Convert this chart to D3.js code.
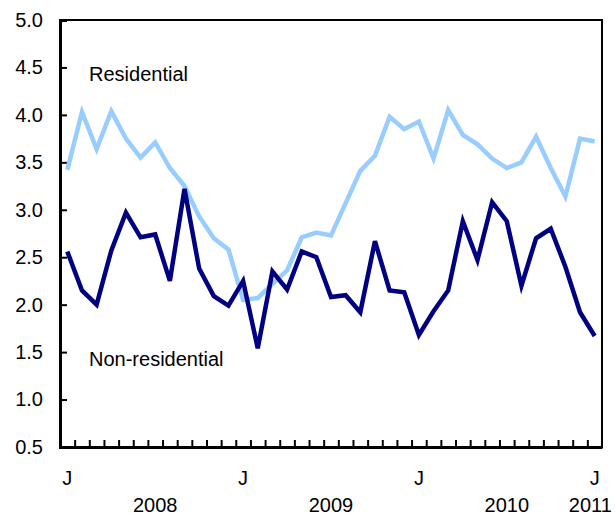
<!DOCTYPE html>
<html>
<head>
<meta charset="utf-8">
<script src="https://cdnjs.cloudflare.com/ajax/libs/d3/7.8.5/d3.min.js"></script>
<style>
  body { margin: 0; background: #fff; }
  text { font-family: "Liberation Sans", Arial, sans-serif; fill: #000; }
</style>
</head>
<body>
<div id="graphic"></div>
<script>
// monthly, Jan 2008 to Jan 2011
var months = ["J","F","M","A","M","J","J","A","S","O","N","D",
              "J","F","M","A","M","J","J","A","S","O","N","D",
              "J","F","M","A","M","J","J","A","S","O","N","D",
              "J"];

var residential = [3.42, 4.03, 3.64, 4.04, 3.75, 3.55, 3.71, 3.44, 3.25, 2.93, 2.70, 2.58,
                   2.05, 2.07, 2.22, 2.36, 2.71, 2.76, 2.73, 3.07, 3.41, 3.57, 3.98, 3.85,
                   3.93, 3.54, 4.05, 3.79, 3.69, 3.54, 3.44, 3.50, 3.77, 3.44, 3.14, 3.75,
                   3.72];

var nonResidential = [2.56, 2.15, 2.00, 2.57, 2.97, 2.71, 2.74, 2.25, 3.22, 2.38, 2.09, 1.99,
                      2.25, 1.54, 2.35, 2.16, 2.56, 2.50, 2.08, 2.10, 1.92, 2.67, 2.15, 2.13,
                      1.68, 1.93, 2.15, 2.88, 2.47, 3.08, 2.88, 2.20, 2.70, 2.80, 2.40, 1.92,
                      1.67];

var yTicks = [0.5, 1.0, 1.5, 2.0, 2.5, 3.0, 3.5, 4.0, 4.5, 5.0];
var years = [{label: "2008", at: 6.5}, {label: "2009", at: 18.5}, {label: "2010", at: 30.5}, {label: "2011", at: 36.2}];

var width = 616,
    height = 516;

var margin = {top: 20, right: 14, bottom: 69, left: 60};
var w = width - margin.left - margin.right,
    h = height - margin.top - margin.bottom;

var svg = d3.select("#graphic")
    .append("svg")
    .attr("width", width)
    .attr("height", height);

var g = svg.append("g")
    .attr("transform", "translate(" + margin.left + "," + margin.top + ")");

var x = d3.scaleLinear()
    .domain([0, months.length])
    .range([0, w]);

var y = d3.scaleLinear()
    .domain([0.5, 5.0])
    .range([h, 0]);

// frame
g.append("rect")
    .attr("width", w)
    .attr("height", h)
    .attr("fill", "none")
    .attr("stroke", "#000")
    .attr("stroke-width", 2);

// y axis, ticks inside
var yAxis = g.append("g")
    .call(d3.axisLeft(y)
      .tickValues(yTicks)
      .tickSize(-7)
      .tickPadding(17)
      .tickFormat(d3.format(".1f")));
yAxis.select(".domain").attr("stroke-width", 3);
yAxis.selectAll(".tick line").attr("stroke-width", 2);
yAxis.selectAll("text")
    .attr("font-size", 20)
    .attr("font-family", "Liberation Sans, Arial, sans-serif");

// x axis, month ticks on band edges
var xAxis = g.append("g")
    .attr("transform", "translate(0," + h + ")")
    .call(d3.axisBottom(x)
      .tickValues(d3.range(1, months.length))
      .tickSize(-7)
      .tickSizeOuter(0)
      .tickFormat(""));
xAxis.select(".domain").attr("stroke-width", 3);
xAxis.selectAll(".tick line").attr("stroke-width", 2);

// January labels
g.selectAll(".jan")
    .data(months.map(function(m, i) { return {m: m, i: i}; })
      .filter(function(d) { return d.i % 12 === 0; }))
    .enter().append("text")
    .attr("class", "jan")
    .attr("x", function(d) { return x(d.i + 0.5); })
    .attr("y", h + 38)
    .attr("text-anchor", "middle")
    .attr("font-size", 20)
    .text(function(d) { return d.m; });

g.selectAll(".year")
    .data(years)
    .enter().append("text")
    .attr("class", "year")
    .attr("x", function(d) { return x(d.at); })
    .attr("y", h + 65)
    .attr("text-anchor", "middle")
    .attr("font-size", 20)
    .text(function(d) { return d.label; });

var line = d3.line()
    .x(function(d, i) { return x(i + 0.5); })
    .y(function(d) { return y(d); });

g.append("path")
    .datum(residential)
    .attr("fill", "none")
    .attr("stroke", "#99ccff")
    .attr("stroke-width", 4.5)
    .attr("d", line);

g.append("path")
    .datum(nonResidential)
    .attr("fill", "none")
    .attr("stroke", "#000080")
    .attr("stroke-width", 4.5)
    .attr("d", line);

g.append("text")
    .attr("x", 29)
    .attr("y", 61)
    .attr("font-size", 20)
    .text("Residential");

g.append("text")
    .attr("x", 29)
    .attr("y", 346)
    .attr("font-size", 20)
    .text("Non-residential");
</script>
</body>
</html>
